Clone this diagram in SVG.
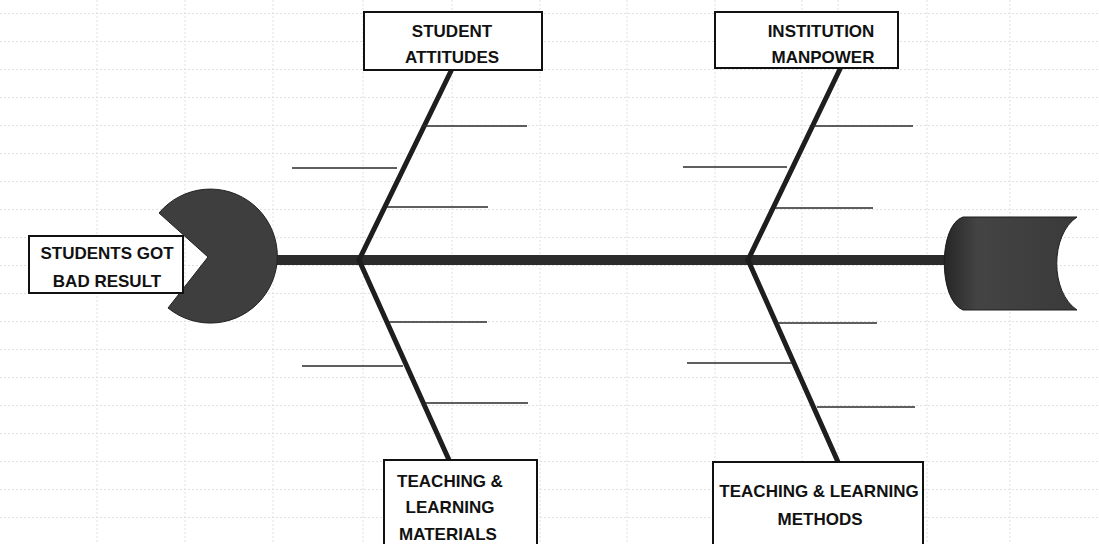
<svg xmlns="http://www.w3.org/2000/svg" width="1099" height="544" viewBox="0 0 1099 544">
  <defs>
    <pattern id="hgrid" patternUnits="userSpaceOnUse" x="0" y="13" width="1099" height="28">
      <line x1="0" y1="0.5" x2="1099" y2="0.5" stroke="#e0e0e0" stroke-width="1" stroke-dasharray="2 2"/>
    </pattern>
    <linearGradient id="tailGrad" x1="0" y1="0" x2="1" y2="0">
      <stop offset="0" stop-color="#262626"/>
      <stop offset="0.25" stop-color="#444"/>
      <stop offset="1" stop-color="#3a3a3a"/>
    </linearGradient>
  </defs>
  <style>
    .box { fill: #fff; stroke: #111; stroke-width: 2; }
    .lbl { font-family: "Liberation Sans", Arial, sans-serif; font-weight: bold; font-size: 17px; fill: #111; text-anchor: middle; }
    .bone { stroke: #1e1e1e; stroke-width: 5; stroke-linecap: round; fill: none; }
    .sub { stroke: #2a2a2a; stroke-width: 1.6; fill: none; }
    .vg { stroke: #e0e0e0; stroke-width: 1; stroke-dasharray: 2 2; }
  </style>
  <rect width="1099" height="544" fill="#fff"/>
  <g id="grid">
    <rect width="1099" height="544" fill="url(#hgrid)"/>
    <line class="vg" x1="97" y1="0" x2="97" y2="544"/>
    <line class="vg" x1="185" y1="0" x2="185" y2="544"/>
    <line class="vg" x1="273" y1="0" x2="273" y2="544"/>
    <line class="vg" x1="363" y1="0" x2="363" y2="544"/>
    <line class="vg" x1="452" y1="0" x2="452" y2="544"/>
    <line class="vg" x1="540" y1="0" x2="540" y2="544"/>
    <line class="vg" x1="627" y1="0" x2="627" y2="544"/>
    <line class="vg" x1="715" y1="0" x2="715" y2="544"/>
    <line class="vg" x1="802" y1="0" x2="802" y2="544"/>
    <line class="vg" x1="838" y1="0" x2="838" y2="544"/>
    <line class="vg" x1="927" y1="0" x2="927" y2="544"/>
    <line class="vg" x1="1010" y1="0" x2="1010" y2="544"/>
  </g>
  <g id="connectors">
    <line x1="275" y1="260" x2="952" y2="260" stroke="#2b2b2b" stroke-width="10"/>
    <line class="bone" x1="359" y1="260" x2="451" y2="71"/>
    <line class="bone" x1="748" y1="260" x2="840" y2="69"/>
    <line class="bone" x1="359" y1="260" x2="449" y2="460"/>
    <line class="bone" x1="748" y1="260" x2="838" y2="462"/>
    <line class="sub" x1="423" y1="126" x2="527" y2="126"/>
    <line class="sub" x1="292" y1="168" x2="397" y2="168"/>
    <line class="sub" x1="387" y1="207" x2="488" y2="207"/>
    <line class="sub" x1="813" y1="126" x2="913" y2="126"/>
    <line class="sub" x1="683" y1="167" x2="787" y2="167"/>
    <line class="sub" x1="775" y1="208" x2="873" y2="208"/>
    <line class="sub" x1="388" y1="322" x2="487" y2="322"/>
    <line class="sub" x1="302" y1="366" x2="403" y2="366"/>
    <line class="sub" x1="425" y1="403" x2="528" y2="403"/>
    <line class="sub" x1="777" y1="323" x2="877" y2="323"/>
    <line class="sub" x1="687" y1="363" x2="792" y2="363"/>
    <line class="sub" x1="817" y1="407" x2="915" y2="407"/>
  </g>
  <g id="head">
    <path d="M 208 257 L 159 213 A 67 67 0 1 1 168 308 Z" fill="#3e3e3e" stroke="#222" stroke-width="1"/>
  </g>
  <g id="tail">
    <path d="M 963 217 L 1077 217 C 1050 235 1050 292 1077 310 L 963 310 C 938 300 938 225 963 217 Z" fill="url(#tailGrad)" stroke="#1e1e1e" stroke-width="1"/>
  </g>
  <g id="effect">
    <rect class="box" x="29" y="236" width="154" height="57"/>
    <text class="lbl" x="107" y="259">STUDENTS GOT</text>
    <text class="lbl" x="107" y="287">BAD RESULT</text>
  </g>
  <g id="student-attitudes">
    <rect class="box" x="364" y="12" width="178" height="58"/>
    <text class="lbl" x="452" y="37">STUDENT</text>
    <text class="lbl" x="452" y="63">ATTITUDES</text>
  </g>
  <g id="institution-manpower">
    <rect class="box" x="715" y="12" width="183" height="56"/>
    <text class="lbl" x="821" y="37">INSTITUTION</text>
    <text class="lbl" x="823" y="63">MANPOWER</text>
  </g>
  <g id="teaching-materials">
    <rect class="box" x="384" y="460" width="153" height="100"/>
    <text class="lbl" x="450" y="487">TEACHING &amp;</text>
    <text class="lbl" x="450" y="513">LEARNING</text>
    <text class="lbl" x="448" y="540">MATERIALS</text>
  </g>
  <g id="teaching-methods">
    <rect class="box" x="713" y="462" width="210" height="100"/>
    <text class="lbl" x="819" y="497">TEACHING &amp; LEARNING</text>
    <text class="lbl" x="820" y="525">METHODS</text>
  </g>
</svg>
